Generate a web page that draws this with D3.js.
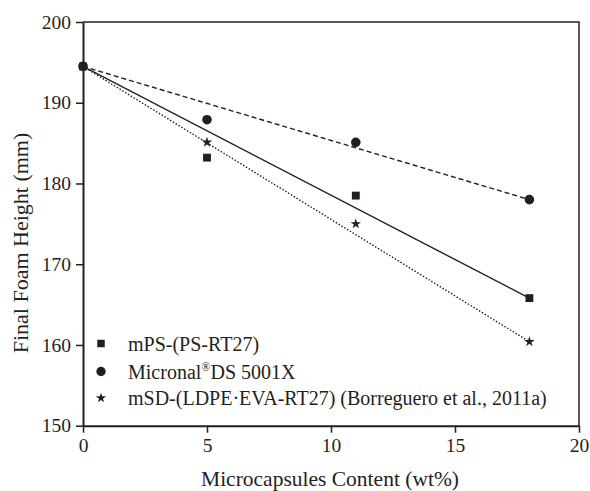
<!DOCTYPE html>
<html>
<head>
<meta charset="utf-8">
<script src="https://cdn.jsdelivr.net/npm/d3@7"></script>
<style>
  html, body { margin: 0; padding: 0; background: #fff; }
  svg { display: block; }
  text { font-family: "Liberation Serif", "Times New Roman", serif; fill: #231f20; }
</style>
</head>
<body>
<svg id="chart" width="590" height="491"></svg>
<script>
// ---- data ----
const contents = [0, 5, 11, 18];
const mPS = [194.5, 183.2, 178.5, 165.8];
const micronal = [194.5, 187.9, 185.1, 178.0];
const mSD = [194.5, 185.1, 175.0, 160.4];

// fitted straight lines (endpoints)
const fitX = [0, 18];
const fitMPS = [194.5, 165.8];
const fitMicronal = [194.5, 178.0];
const fitMSD = [194.5, 160.4];

const xTicks = [0, 5, 10, 15, 20];
const yTicks = [150, 160, 170, 180, 190, 200];

const xTitle = "Microcapsules Content (wt%)";
const yTitle = "Final Foam Height (mm)";

// ---- layout ----
const pL = 83, pR = 579, pT = 22, pB = 425.7;
const ink = "#231f20";

const svg = d3.select("#chart");
const x = d3.scaleLinear().domain([0, 20]).range([pL, pR]);
const y = d3.scaleLinear().domain([150, 200]).range([pB, pT]);

// frame (top & right)
svg.append("path")
  .attr("d", `M${pL},${pT}H${pR}V${pB}`)
  .attr("fill", "none").attr("stroke", ink).attr("stroke-width", 1.5);

// axes
const xAxis = svg.append("g").attr("transform", `translate(0,${pB})`)
  .call(d3.axisBottom(x).tickValues(xTicks).tickFormat(d3.format("d")).tickSizeInner(7).tickSizeOuter(0).tickPadding(5));
const yAxis = svg.append("g").attr("transform", `translate(${pL},0)`)
  .call(d3.axisLeft(y).tickValues(yTicks).tickFormat(d3.format("d")).tickSizeInner(7).tickSizeOuter(0).tickPadding(5));
[xAxis, yAxis].forEach(g => {
  g.select(".domain").attr("stroke", ink).attr("stroke-width", 2);
  g.selectAll(".tick line").attr("stroke", ink).attr("stroke-width", 1.5);
  g.selectAll(".tick text").attr("font-size", 19.5).attr("fill", ink)
    .style("font-family", '"Liberation Serif", serif');
});

// axis titles
svg.append("text").attr("x", 330).attr("y", 486)
  .attr("text-anchor", "middle").attr("font-size", 21.5).text(xTitle);
svg.append("text").attr("transform", `translate(28,243) rotate(-90)`)
  .attr("text-anchor", "middle").attr("font-size", 22).text(yTitle);

// fitted lines
const line = d3.line().x(d => x(d[0])).y(d => y(d[1]));
const fits = [
  { vals: fitMicronal, dash: "5,3" },
  { vals: fitMSD, dash: "1.5,1.8" },
  { vals: fitMPS, dash: null }
];
fits.forEach(f => {
  svg.append("path")
    .datum(fitX.map((v, i) => [v, f.vals[i]]))
    .attr("d", line)
    .attr("fill", "none").attr("stroke", ink).attr("stroke-width", 1.4)
    .attr("stroke-dasharray", f.dash);
});

// markers
const series = [
  { name: "micronal", vals: micronal, sym: d3.symbolCircle, size: 72 },
  { name: "mSD", vals: mSD, sym: d3.symbolStar, size: 34 },
  { name: "mPS", vals: mPS, sym: d3.symbolSquare, size: 62 }
];
series.forEach(s => {
  svg.append("g").selectAll("path").data(contents.map((c, i) => [c, s.vals[i]]))
    .join("path")
    .attr("transform", d => `translate(${x(d[0])},${y(d[1])})`)
    .attr("d", d3.symbol().type(s.sym).size(s.size))
    .attr("fill", ink);
});

// legend
const legendItems = [
  { sym: d3.symbolSquare, size: 56, label: "mPS-(PS-RT27)" },
  { sym: d3.symbolCircle, size: 68, label: "Micronal", sup: "®", rest: "DS 5001X" },
  { sym: d3.symbolStar, size: 32, label: "mSD-(LDPE·EVA-RT27) (Borreguero et al., 2011a)" }
];
const legendY = [343.5, 371.5, 398];
legendItems.forEach((it, i) => {
  const g = svg.append("g").attr("transform", `translate(101,${legendY[i]})`);
  g.append("path").attr("d", d3.symbol().type(it.sym).size(it.size)).attr("fill", ink);
  const t = g.append("text").attr("x", 27).attr("y", 7).attr("font-size", 20);
  t.append("tspan").text(it.label);
  if (it.sup) {
    t.append("tspan").attr("font-size", 12).attr("dy", -8).text(it.sup);
    t.append("tspan").attr("dy", 8).text(it.rest);
  }
});
</script>
</body>
</html>
